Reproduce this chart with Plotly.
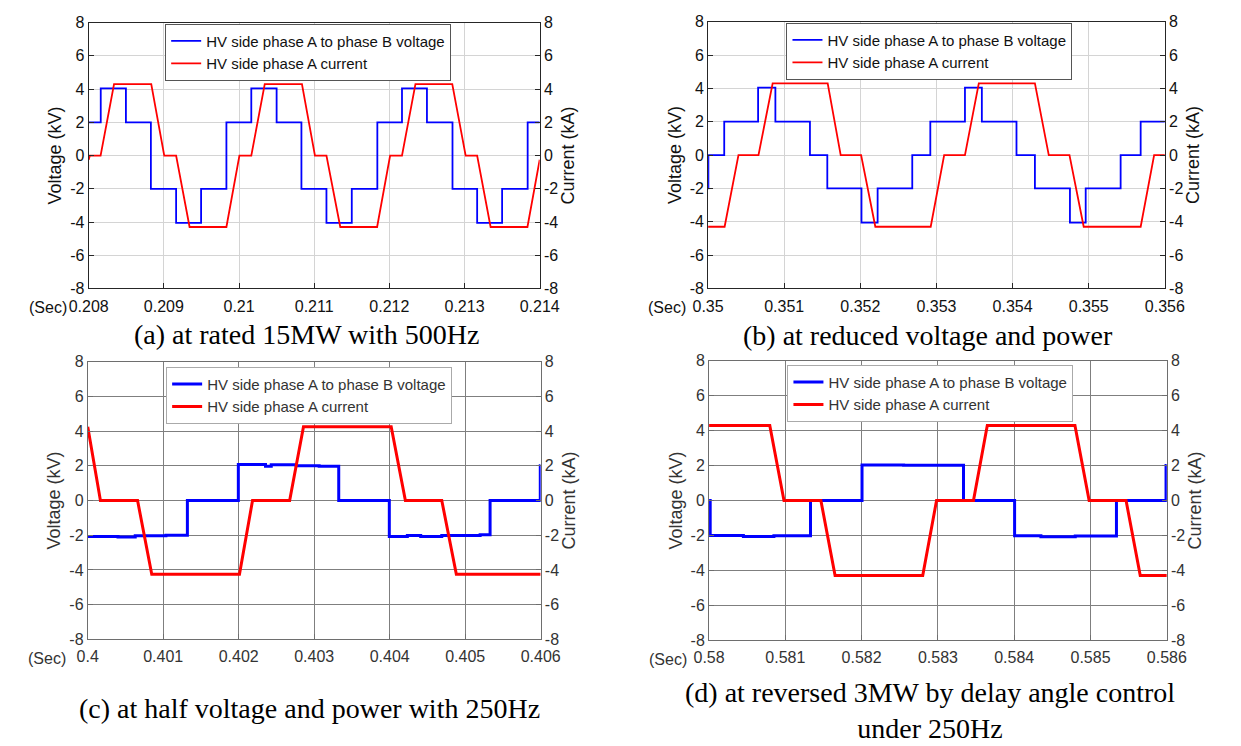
import plotly.graph_objects as go

# ---------------- data ----------------
# (a) rated 15MW, 500Hz
ta_v = [0.208, 0.20816, 0.208495, 0.208827, 0.209163, 0.209495, 0.209832, 0.210163, 0.2105, 0.21083,
        0.211163, 0.2115, 0.21184, 0.212168, 0.2125, 0.21284, 0.213168, 0.2135, 0.21384, 0.214]
va = [2, 4.05, 2, -2, -4.05, -2, 2, 4.05, 2, -2, -4.05, -2, 2, 4.05, 2, -2, -4.05, -2, 2, 2]
ta_i = [0.208, 0.208015, 0.208158, 0.208337, 0.208832, 0.209005, 0.209163, 0.209342, 0.209832, 0.210005,
        0.210163, 0.210342, 0.210837, 0.211010, 0.211163, 0.211347, 0.211837, 0.212010, 0.212168, 0.212347,
        0.212837, 0.213015, 0.213168, 0.213347, 0.213837, 0.214]
ia = [-0.25, 0, 0, 4.3, 4.3, 0, 0, -4.3, -4.3, 0, 0, 4.3, 4.3, 0, 0, -4.3, -4.3, 0, 0, 4.3, 4.3, 0, 0,
      -4.3, -4.3, -0.25]

# (b) reduced voltage and power
tb_v = [0.35, 0.350004, 0.350212, 0.350657, 0.350884, 0.351338, 0.351566, 0.352015, 0.352227, 0.352682,
        0.352919, 0.353374, 0.353596, 0.354051, 0.354293, 0.354753, 0.354960, 0.355419, 0.355682, 0.356]
vb = [-2, 0, 2, 4.05, 2, 0, -2, -4.05, -2, 0, 2, 4.05, 2, 0, -2, -4.05, -2, 0, 2, 2]
tb_i = [0.35, 0.350217, 0.350399, 0.350662, 0.350848, 0.351571, 0.351742, 0.352010, 0.352197, 0.352924,
        0.353101, 0.353374, 0.353556, 0.354293, 0.354475, 0.354747, 0.354934, 0.355682, 0.355859, 0.356]
ib = [-4.3, -4.3, 0, 0, 4.3, 4.3, 0, 0, -4.3, -4.3, 0, 0, 4.3, 4.3, 0, 0, -4.3, -4.3, 0, 0]

# (c) half voltage and power, 250Hz
tc_v = [0.4, 0.400401, 0.400629, 0.401036, 0.401320, 0.401995, 0.402355, 0.402431, 0.402761, 0.403066,
        0.403325, 0.403995, 0.404234, 0.404411, 0.404690, 0.405198, 0.405330, 0.405995, 0.406]
vc = [-2.08, -2.1, -2.03, -2.0, 0, 2.07, 1.97, 2.06, 2.0, 1.98, 0, -2.08, -2.02, -2.07, -2.01, -1.98,
      0, 2, 2]
tc_i = [0.4, 0.400168, 0.400660, 0.400848, 0.402010, 0.402183, 0.402675, 0.402858, 0.404020, 0.404208,
        0.404690, 0.404883, 0.406]
ic = [4.25, 0, 0, -4.25, -4.25, 0, 0, 4.25, 4.25, 0, 0, -4.25, -4.25]

# (d) reversed 3MW, delay angle control, 250Hz
td_v = [0.58, 0.580015, 0.58045, 0.58085, 0.581330, 0.582005, 0.58255, 0.583335, 0.584005, 0.58435,
        0.58480, 0.585340, 0.585990, 0.586]
vd = [0, -2.0, -2.06, -2.02, 0, 2.04, 2.02, 0, -2.02, -2.07, -2.03, 0, 2, 2]
td_i = [0.58, 0.580796, 0.580982, 0.581466, 0.581652, 0.582801, 0.582982, 0.583466, 0.583647, 0.584796,
        0.584982, 0.585466, 0.585652, 0.586]
id_ = [4.3, 4.3, 0, 0, -4.3, -4.3, 0, 0, 4.3, 4.3, 0, 0, -4.3, -4.3]

# ticks
xt_a = [0.208, 0.209, 0.210, 0.211, 0.212, 0.213, 0.214]
xl_a = ["0.208", "0.209", "0.21", "0.211", "0.212", "0.213", "0.214"]
xt_b = [0.350, 0.351, 0.352, 0.353, 0.354, 0.355, 0.356]
xl_b = ["0.35", "0.351", "0.352", "0.353", "0.354", "0.355", "0.356"]
xt_c = [0.400, 0.401, 0.402, 0.403, 0.404, 0.405, 0.406]
xl_c = ["0.4", "0.401", "0.402", "0.403", "0.404", "0.405", "0.406"]
xt_d = [0.580, 0.581, 0.582, 0.583, 0.584, 0.585, 0.586]
xl_d = ["0.58", "0.581", "0.582", "0.583", "0.584", "0.585", "0.586"]
yt = [-8, -6, -4, -2, 0, 2, 4, 6, 8]
yl = ["-8", "-6", "-4", "-2", "0", "2", "4", "6", "8"]

name_v = "HV side phase A to phase B voltage"
name_i = "HV side phase A current"
captions = ["(a) at rated 15MW with 500Hz",
            "(b) at reduced voltage and power",
            "(c) at half voltage and power with 250Hz",
            "(d) at reversed 3MW by delay angle control<br>under 250Hz"]

# ---------------- layout ----------------
W, H = 1241, 746
SANS = "Liberation Sans, Arial, sans-serif"
SERIF = "Liberation Serif, Times New Roman, serif"

panels = [
    dict(tv=ta_v, v=va, ti=ta_i, i=ia, xt=xt_a, xl=xl_a, px=(71, 537), py=(15, 287),
         leg=(150, 16), legfs=15, style="a"),
    dict(tv=tb_v, v=vb, ti=tb_i, i=ib, xt=xt_b, xl=xl_b, px=(711, 1183), py=(14, 287),
         leg=(792, 15), legfs=15, style="a"),
    dict(tv=tc_v, v=vc, ti=tc_i, i=ic, xt=xt_c, xl=xl_c, px=(70, 538), py=(362, 646),
         leg=(151, 367), legfs=15, style="c"),
    dict(tv=td_v, v=vd, ti=td_i, i=id_, xt=xt_d, xl=xl_d, px=(712, 1185), py=(361, 647),
         leg=(793, 365), legfs=15, style="c"),
]

fig = go.Figure()
layout = dict(width=W, height=H, margin=dict(l=0, r=0, t=0, b=0),
              paper_bgcolor="white", plot_bgcolor="white",
              font=dict(family=SANS, color="#000"), showlegend=True)
annotations = []

for k, p in enumerate(panels):
    n = k + 1
    xname = "x" if n == 1 else f"x{n}"
    yl_name = f"y{2*n-1}" if n > 1 else "y"
    yr_name = f"y{2*n}"
    legname = "legend" if n == 1 else f"legend{n}"
    if p["style"] == "a":
        lw, grid, axc, tcol, legb = 1.8, "#d4d4d4", "#262626", "#111", "#555"
    else:
        lw, grid, axc, tcol, legb = 3.0, "#7f7f7f", "#6e6e6e", "#333", "#aaaaaa"

    fig.add_trace(go.Scatter(x=p["tv"], y=p["v"], mode="lines", name=name_v,
                             line=dict(color="#0000ff", width=lw, shape="hv"),
                             xaxis=xname, yaxis=yl_name, legend=legname))
    fig.add_trace(go.Scatter(x=p["ti"], y=p["i"], mode="lines", name=name_i,
                             line=dict(color="#ff0000", width=lw),
                             xaxis=xname, yaxis=yr_name, legend=legname))

    xd = [p["px"][0] / W, p["px"][1] / W]
    yd = [1 - p["py"][1] / H, 1 - p["py"][0] / H]
    xkey = "xaxis" if n == 1 else f"xaxis{n}"
    ylkey = "yaxis" if n == 1 else f"yaxis{2*n-1}"
    yrkey = f"yaxis{2*n}"
    tf = dict(family=SANS, size=16, color=tcol)
    titf = dict(family=SANS, size=18, color=tcol)
    layout[xkey] = dict(domain=xd, range=[p["xt"][0], p["xt"][-1]], tickvals=p["xt"], ticktext=p["xl"],
                        anchor=yl_name, showline=True, mirror=True, linecolor=axc, linewidth=1,
                        ticks="inside", ticklen=5, tickcolor=axc, showgrid=True, gridcolor=grid,
                        zeroline=False, tickfont=tf, ticklabelstandoff=3, fixedrange=True)
    layout[ylkey] = dict(domain=yd, range=[-8, 8], tickvals=yt, ticktext=yl, anchor=xname,
                         showline=True, linecolor=axc, linewidth=1, ticks="inside", ticklen=5,
                         tickcolor=axc, showgrid=True, gridcolor=grid, zeroline=False, tickfont=tf,
                         title=dict(text="Voltage (kV)", font=titf, standoff=3))
    layout[yrkey] = dict(range=[-8, 8], tickvals=yt, ticktext=yl, anchor=xname, overlaying=yl_name,
                         side="right", showline=True, linecolor=axc, linewidth=1, ticks="inside",
                         ticklen=5, tickcolor=axc, showgrid=False, zeroline=False, tickfont=tf,
                         title=dict(text="Current (kA)", font=titf, standoff=3))
    layout[legname] = dict(x=p["leg"][0] / W, y=1 - p["leg"][1] / H, xanchor="left", yanchor="top",
                           bgcolor="white", bordercolor=legb, borderwidth=1, itemwidth=30,
                           tracegroupgap=0, font=dict(family=SANS, size=p["legfs"], color=tcol),
                           itemclick=False, itemdoubleclick=False)
    annotations.append(dict(text="(Sec)", xref=f"{xname} domain", yref=f"{yl_name} domain",
                            x=0, y=0, xanchor="right", yanchor="middle", xshift=-20, yshift=-19,
                            showarrow=False, font=dict(family=SANS, size=16, color=tcol)))

cap_pos = [(297, 334), (938, 335), (299, 717), (940, 719)]
for c, (cx, cy) in zip(captions, cap_pos):
    annotations.append(dict(text=c, xref="paper", yref="paper", x=cx / W, y=1 - cy / H,
                            xanchor="center", yanchor="middle", showarrow=False,
                            font=dict(family=SERIF, size=28, color="#000")))

layout["annotations"] = annotations
fig.update_layout(**layout)
fig.write_html("out.html")
